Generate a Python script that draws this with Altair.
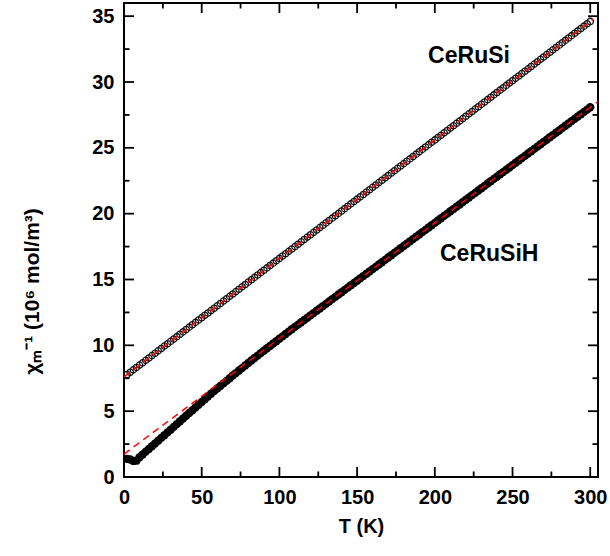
import altair as alt
import pandas as pd

# Temperature grid of the measurement (K)
temps = list(range(2, 301, 2))

# Inverse molar susceptibility, 10^6 mol/m^3
ceru_si = [
    7.78, 7.96, 8.14, 8.32, 8.50, 8.68, 8.86, 9.04, 9.22, 9.40,
    9.58, 9.76, 9.94, 10.12, 10.30, 10.48, 10.66, 10.84, 11.02, 11.20,
    11.38, 11.56, 11.74, 11.92, 12.10, 12.28, 12.46, 12.64, 12.82, 13.00,
    13.18, 13.36, 13.54, 13.72, 13.90, 14.08, 14.26, 14.44, 14.62, 14.80,
    14.98, 15.16, 15.34, 15.52, 15.70, 15.88, 16.06, 16.24, 16.42, 16.60,
    16.78, 16.96, 17.14, 17.32, 17.50, 17.68, 17.86, 18.04, 18.22, 18.40,
    18.58, 18.76, 18.94, 19.12, 19.30, 19.48, 19.66, 19.84, 20.02, 20.20,
    20.38, 20.56, 20.74, 20.92, 21.10, 21.28, 21.46, 21.64, 21.82, 22.00,
    22.18, 22.36, 22.54, 22.72, 22.90, 23.08, 23.26, 23.44, 23.62, 23.80,
    23.98, 24.16, 24.34, 24.52, 24.70, 24.88, 25.06, 25.24, 25.42, 25.60,
    25.78, 25.96, 26.14, 26.32, 26.50, 26.68, 26.86, 27.04, 27.22, 27.40,
    27.58, 27.76, 27.94, 28.12, 28.30, 28.48, 28.66, 28.84, 29.02, 29.20,
    29.38, 29.56, 29.74, 29.92, 30.10, 30.28, 30.46, 30.64, 30.82, 31.00,
    31.18, 31.36, 31.54, 31.72, 31.90, 32.08, 32.26, 32.44, 32.62, 32.80,
    32.98, 33.16, 33.34, 33.52, 33.70, 33.88, 34.06, 34.24, 34.42, 34.60,
]

ceru_sih = [
    1.38, 1.33, 1.22, 1.24, 1.50, 1.71, 1.93, 2.13, 2.34, 2.55,
    2.75, 2.97, 3.17, 3.39, 3.59, 3.81, 4.02, 4.23, 4.44, 4.65,
    4.86, 5.07, 5.28, 5.49, 5.70, 5.91, 6.11, 6.32, 6.52, 6.72,
    6.91, 7.11, 7.30, 7.50, 7.71, 7.89, 8.09, 8.27, 8.47, 8.66,
    8.85, 9.04, 9.22, 9.41, 9.59, 9.78, 9.95, 10.14, 10.31, 10.50,
    10.68, 10.86, 11.04, 11.22, 11.40, 11.57, 11.75, 11.92, 12.10, 12.28,
    12.45, 12.63, 12.80, 12.98, 13.15, 13.33, 13.51, 13.68, 13.86, 14.03,
    14.21, 14.38, 14.56, 14.73, 14.91, 15.09, 15.26, 15.44, 15.61, 15.79,
    15.96, 16.14, 16.31, 16.49, 16.67, 16.84, 17.02, 17.19, 17.37, 17.54,
    17.72, 17.90, 18.07, 18.25, 18.42, 18.60, 18.77, 18.95, 19.12, 19.30,
    19.48, 19.65, 19.83, 20.00, 20.18, 20.35, 20.53, 20.70, 20.88, 21.06,
    21.23, 21.41, 21.58, 21.76, 21.93, 22.11, 22.29, 22.46, 22.64, 22.81,
    22.99, 23.16, 23.34, 23.51, 23.69, 23.87, 24.04, 24.22, 24.39, 24.57,
    24.74, 24.92, 25.09, 25.27, 25.45, 25.62, 25.80, 25.97, 26.15, 26.32,
    26.50, 26.68, 26.85, 27.03, 27.20, 27.38, 27.55, 27.73, 27.90, 28.08,
]

# Curie-Weiss fits (end points of the straight lines)
fit_si_T = [0, 302]
fit_si_v = [7.6, 34.78]
fit_sih_T = [0, 305]
fit_sih_v = [1.74, 28.52]

# Compound labels
label_text = ["CeRuSi", "CeRuSiH"]
label_T = [222, 235]
label_v = [32.0, 16.9]

# Tick positions
x_major = [0, 50, 100, 150, 200, 250, 300]
x_minor = [25, 75, 125, 175, 225, 275]
y_major = [0, 5, 10, 15, 20, 25, 30, 35]
y_minor = [2.5, 7.5, 12.5, 17.5, 22.5, 27.5, 32.5]

W, H = 474, 474
FONT = "Liberation Sans"

x_scale = alt.Scale(domain=[0, 305], nice=False, zero=False)
y_scale = alt.Scale(domain=[0, 36], nice=False, zero=False)

df_si = pd.DataFrame({"T": temps, "v": ceru_si})
df_sih = pd.DataFrame({"T": temps, "v": ceru_sih})
df_fit_si = pd.DataFrame({"T": fit_si_T, "v": fit_si_v})
df_fit_sih = pd.DataFrame({"T": fit_sih_T, "v": fit_sih_v})
df_lab = pd.DataFrame({"T": label_T, "v": label_v, "text": label_text})

x_axis = alt.Axis(
    values=x_major, title="T (K)", grid=False, ticks=False, domain=False,
    labelFont=FONT, labelFontSize=20, labelFontWeight="bold", labelColor="black",
    labelPadding=10, labelFlush=False,
    titleFont=FONT, titleFontSize=20, titleFontWeight="bold", titleColor="black",
    titleY=49, titleBaseline="middle",
)
y_axis = alt.Axis(
    values=y_major, title="χₘ⁻¹  (10⁶ mol/m³)", grid=False, ticks=False, domain=False,
    labelFont=FONT, labelFontSize=20, labelFontWeight="bold", labelColor="black",
    labelPadding=10, labelFlush=False,
    titleFont=FONT, titleFontSize=21, titleFontWeight="bold", titleColor="black",
    titleX=-92, titleY=288, titleBaseline="middle", titleAlign="center",
)

X = alt.X("T:Q", scale=x_scale, axis=x_axis)
Y = alt.Y("v:Q", scale=y_scale, axis=y_axis)

sih_points = alt.Chart(df_sih).mark_circle(size=70, color="black", opacity=1).encode(x=X, y=Y)

si_points = alt.Chart(df_si).mark_point(
    shape="circle", size=40, filled=False, stroke="#111111", strokeWidth=1.3, opacity=1
).encode(x=X, y=Y)


def fit_line(df):
    return alt.Chart(df).mark_line(
        color="#ff0000", strokeWidth=1.5, strokeDash=[7, 5], clip=True
    ).encode(x=X, y=Y)


labels = alt.Chart(df_lab).mark_text(
    font=FONT, fontSize=23, fontWeight="bold", color="black", align="center", baseline="middle"
).encode(x=X, y=Y, text="text:N")


def x_ticks(values, length):
    df = pd.DataFrame({"T": values})
    bottom = alt.Chart(df).mark_rule(color="black", strokeWidth=1.8).encode(
        x=X, y=alt.value(H), y2=alt.value(H - length),
    )
    top = alt.Chart(df).mark_rule(color="black", strokeWidth=1.8).encode(
        x=X, y=alt.value(0), y2=alt.value(length),
    )
    return [bottom, top]


def y_ticks(values, length):
    df = pd.DataFrame({"v": values})
    left = alt.Chart(df).mark_rule(color="black", strokeWidth=1.8).encode(
        y=Y, x=alt.value(0), x2=alt.value(length),
    )
    right = alt.Chart(df).mark_rule(color="black", strokeWidth=1.8).encode(
        y=Y, x=alt.value(W), x2=alt.value(W - length),
    )
    return [left, right]


tick_layers = (
    x_ticks(x_major, 10) + x_ticks(x_minor, 5.5)
    + y_ticks(y_major, 10) + y_ticks(y_minor, 5.5)
)

chart = alt.layer(
    sih_points, si_points, fit_line(df_fit_sih), fit_line(df_fit_si), labels, *tick_layers
).properties(
    width=W, height=H,
    autosize=alt.AutoSizeParams(type="none"),
    padding={"left": 124, "top": 3, "right": 12, "bottom": 79},
    background="white",
).configure_view(
    stroke="black", strokeWidth=2
)

chart.save("out.html", embed_options={"renderer": "svg", "actions": False})
